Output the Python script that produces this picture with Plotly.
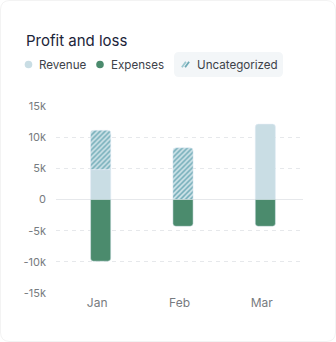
import plotly.graph_objects as go

# ---- data ----
months = ["Jan", "Feb", "Mar"]
revenue = [4800, None, 12100]
uncategorized = [6300, 8300, None]
expenses = [-9900, -4300, -4300]
y_ticks = [-15000, -10000, -5000, 0, 5000, 10000, 15000]
y_tick_labels = ["-15k", "-10k", "-5k", "0", "5k", "10k", "15k"]

# ---- styling ----
W, H = 336, 342
L, R, T, B = 56, 33, 106, 49
FONT = "Inter, 'Noto Sans', sans-serif"
REV_C = "#c9dde4"
EXP_C = "#4b8b6d"
HATCH_FG = "#6eaab6"
HATCH_BG = "#d2e5ea"
TITLE_C = "#1b2439"
TEXT_C = "#3d4249"
TICK_C = "#777b80"
GRID_C = "#e6e8eb"

PW, PH = W - L - R, H - T - B


def px_x(p):
    return (p - L) / PW


def px_y(p):
    return (H - B - p) / PH


bar_w = 0.245
bar_off = -0.08

fig = go.Figure()
fig.add_bar(x=months, y=revenue, name="Revenue", marker_color=REV_C,
            width=bar_w, offset=bar_off, showlegend=False)
fig.add_bar(x=months, y=uncategorized, name="Uncategorized",
            marker=dict(color=HATCH_BG,
                        pattern=dict(shape="/", fgcolor=HATCH_FG, bgcolor=HATCH_BG,
                                     size=3.5, solidity=0.45, fillmode="replace")),
            width=bar_w, offset=bar_off, showlegend=False)
fig.add_bar(x=months, y=expenses, name="Expenses", marker_color=EXP_C,
            width=bar_w, offset=bar_off, showlegend=False)

shapes = []
annotations = []

# card outline
shapes.append(dict(type="path", xref="paper", yref="paper", layer="below",
                   path=(f"M {px_x(10)} {px_y(0.5)} L {px_x(W-10)} {px_y(0.5)} "
                         f"Q {px_x(W-0.5)} {px_y(0.5)} {px_x(W-0.5)} {px_y(10)} "
                         f"L {px_x(W-0.5)} {px_y(H-10)} "
                         f"Q {px_x(W-0.5)} {px_y(H-0.5)} {px_x(W-10)} {px_y(H-0.5)} "
                         f"L {px_x(10)} {px_y(H-0.5)} "
                         f"Q {px_x(0.5)} {px_y(H-0.5)} {px_x(0.5)} {px_y(H-10)} "
                         f"L {px_x(0.5)} {px_y(10)} "
                         f"Q {px_x(0.5)} {px_y(0.5)} {px_x(10)} {px_y(0.5)} Z"),
                   line=dict(color="#f3f3f3", width=1), fillcolor="rgba(0,0,0,0)"))

# title
annotations.append(dict(text="Profit and loss", xref="paper", yref="paper",
                        x=px_x(24), y=px_y(41), xanchor="left", yanchor="middle",
                        showarrow=False, font=dict(family=FONT, size=15, color=TITLE_C)))

# legend row
LEG_Y = 64.5
shapes.append(dict(type="path", xref="paper", yref="paper", layer="below",
                   path=(f"M {px_x(179)} {px_y(52)} L {px_x(278)} {px_y(52)} "
                         f"Q {px_x(283)} {px_y(52)} {px_x(283)} {px_y(57)} "
                         f"L {px_x(283)} {px_y(72)} "
                         f"Q {px_x(283)} {px_y(77)} {px_x(278)} {px_y(77)} "
                         f"L {px_x(179)} {px_y(77)} "
                         f"Q {px_x(174)} {px_y(77)} {px_x(174)} {px_y(72)} "
                         f"L {px_x(174)} {px_y(57)} "
                         f"Q {px_x(174)} {px_y(52)} {px_x(179)} {px_y(52)} Z"),
                   line=dict(width=0), fillcolor="#f3f6f8"))

for cx, col in [(28.5, REV_C), (100, EXP_C)]:
    shapes.append(dict(type="circle", xref="paper", yref="paper",
                       x0=px_x(cx - 3.8), x1=px_x(cx + 3.8),
                       y0=px_y(LEG_Y + 3.8), y1=px_y(LEG_Y - 3.8),
                       line=dict(width=0), fillcolor=col))

# hatch icon: two short diagonal strokes
for dx, col in [(-1.6, "#9cc8d0"), (1.6, HATCH_FG)]:
    shapes.append(dict(type="line", xref="paper", yref="paper",
                       x0=px_x(183.5 + dx), y0=px_y(LEG_Y + 2.8),
                       x1=px_x(187.5 + dx), y1=px_y(LEG_Y - 2.8),
                       line=dict(color=col, width=1.8)))

for text, x0 in [("Revenue", 37), ("Expenses", 109), ("Uncategorized", 195)]:
    annotations.append(dict(text=text, xref="paper", yref="paper",
                            x=px_x(x0), y=px_y(LEG_Y), xanchor="left", yanchor="middle",
                            showarrow=False,
                            font=dict(family=FONT, size=11.6, color=TEXT_C)))

fig.update_layout(
    width=W, height=H,
    margin=dict(l=L, r=R, t=T, b=B, pad=0),
    paper_bgcolor="white", plot_bgcolor="white",
    barmode="relative", barcornerradius=3,
    font=dict(family=FONT),
    shapes=shapes, annotations=annotations,
    showlegend=False,
)
fig.update_xaxes(showgrid=False, showline=False, ticks="", zeroline=False,
                 tickfont=dict(family=FONT, size=12, color=TICK_C),
                 ticklabelstandoff=1, fixedrange=True)
fig.update_yaxes(range=[-15000, 15000], tickvals=y_ticks, ticktext=y_tick_labels,
                 showgrid=True, gridcolor=GRID_C, griddash="4px,4px", gridwidth=1,
                 zeroline=True, zerolinecolor=GRID_C, zerolinewidth=1,
                 showline=False, ticks="", ticklabelstandoff=9,
                 tickfont=dict(family=FONT, size=11, color=TICK_C), fixedrange=True)

fig.write_html("out.html", config={"displayModeBar": False})
